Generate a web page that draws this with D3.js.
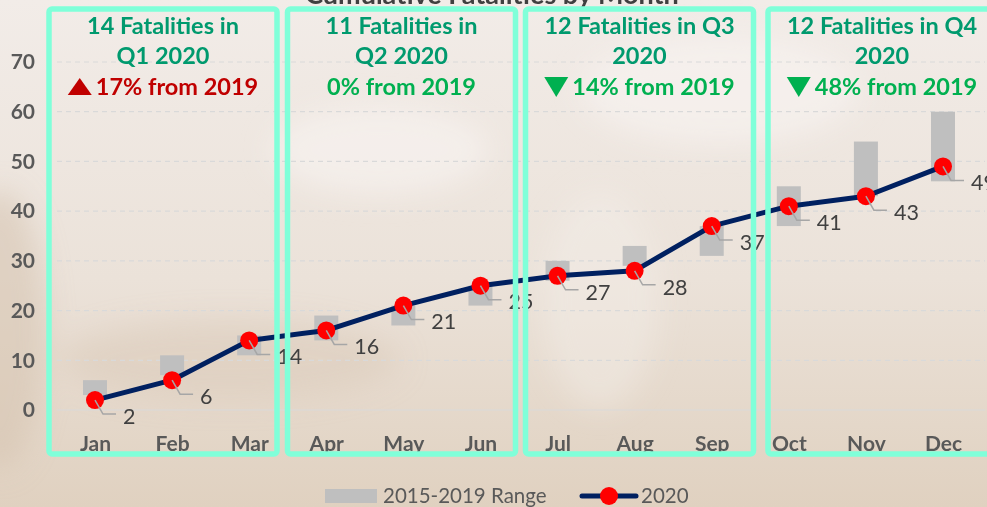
<!DOCTYPE html>
<html>
<head>
<meta charset="utf-8">
<script src="https://cdn.jsdelivr.net/npm/d3@7"></script>
<style>
  html, body { margin: 0; padding: 0; background: #ece3da; }
  svg { display: block; font-family: Lato, "Open Sans", sans-serif; }
</style>
</head>
<body>
<svg id="chart" width="987" height="507"></svg>
<script>
// Chart values
var months = ["Jan", "Feb", "Mar", "Apr", "May", "Jun", "Jul", "Aug", "Sep", "Oct", "Nov", "Dec"];
var fatalities2020 = [2, 6, 14, 16, 21, 25, 27, 28, 37, 41, 43, 49];
var rangeLow = [3, 7, 11, 14, 17, 21, 26, 29, 31, 37, 43, 46];
var rangeHigh = [6, 11, 15, 19, 21, 25, 30, 33, 37, 45, 54, 60];
var yTicks = [0, 10, 20, 30, 40, 50, 60, 70];

// Quarter call-outs
var quarterLine1 = ["14 Fatalities in", "11 Fatalities in", "12 Fatalities in Q3", "12 Fatalities in Q4"];
var quarterLine2 = ["Q1 2020", "Q2 2020", "2020", "2020"];
var quarterChange = ["17% from 2019", "0% from 2019", "14% from 2019", "48% from 2019"];
var quarterTrend = ["up", "flat", "down", "down"];

var legendLabels = ["2015-2019 Range", "2020"];
var chartTitle = "Cumulative Fatalities by Month";

var width = 987, height = 507;
var svg = d3.select("#chart");

// Background with soft swirls
var defs = svg.append("defs");
var grad = defs.append("linearGradient")
    .attr("id", "bg").attr("x1", 0).attr("y1", 0).attr("x2", 0).attr("y2", 1);
grad.append("stop").attr("offset", "0%").attr("stop-color", "#f2ece8");
grad.append("stop").attr("offset", "55%").attr("stop-color", "#ebe2d9");
grad.append("stop").attr("offset", "100%").attr("stop-color", "#e0d1c0");
defs.append("filter").attr("id", "blur")
    .append("feGaussianBlur").attr("stdDeviation", 14);

svg.append("rect").attr("width", width).attr("height", height).attr("fill", "url(#bg)");

var swirls = svg.append("g").attr("filter", "url(#blur)");
swirls.append("ellipse").attr("cx", 0).attr("cy", 330).attr("rx", 45).attr("ry", 140)
    .attr("fill", "#d6c2ae").attr("opacity", 0.55);
swirls.append("ellipse").attr("cx", 230).attr("cy", 360).attr("rx", 170).attr("ry", 40)
    .attr("fill", "#dac8b5").attr("opacity", 0.45);
swirls.append("ellipse").attr("cx", 380).attr("cy", 150).attr("rx", 110).attr("ry", 45)
    .attr("fill", "#f8f4f1").attr("opacity", 0.6);
swirls.append("ellipse").attr("cx", 720).attr("cy", 90).attr("rx", 140).attr("ry", 55)
    .attr("fill", "#f8f4f1").attr("opacity", 0.6);
swirls.append("ellipse").attr("cx", 600).attr("cy", 300).attr("rx", 60).attr("ry", 110)
    .attr("fill", "#f6f0eb").attr("opacity", 0.4);

// Scales
var x = d3.scalePoint().domain(months).range([95, 943]);
var y = d3.scaleLinear().domain([0, 70]).range([410, 62]);

// Gridlines
svg.append("g").selectAll("line")
    .data(yTicks)
    .join("line")
    .attr("x1", 57).attr("x2", 985)
    .attr("y1", function(d) { return y(d); })
    .attr("y2", function(d) { return y(d); })
    .attr("stroke", "#d9d9d9")
    .attr("stroke-width", 1.2)
    .attr("stroke-dasharray", function(d) { return d === 0 ? null : "5,4"; });

// Y axis labels
var yAxis = svg.append("g")
    .attr("transform", "translate(35,0)")
    .call(d3.axisLeft(y).tickValues(yTicks).tickSize(0).tickPadding(0));
yAxis.select(".domain").remove();
yAxis.selectAll("text")
    .attr("font-family", "Lato, sans-serif")
    .attr("font-size", 21)
    .attr("font-weight", "bold")
    .attr("fill", "#595959");

// X axis labels (bottoms tucked under the quarter boxes)
var xAxis = svg.append("g")
    .attr("transform", "translate(0,436)")
    .call(d3.axisBottom(x).tickSize(0).tickPadding(0));
xAxis.select(".domain").remove();
xAxis.selectAll("text")
    .attr("font-family", "Lato, sans-serif")
    .attr("font-size", 21)
    .attr("font-weight", "bold")
    .attr("fill", "#595959")
    .attr("dy", "0.71em");

// 2015-2019 range bars
var barWidth = 24;
svg.append("g").selectAll("rect")
    .data(months)
    .join("rect")
    .attr("x", function(d) { return x(d) - barWidth / 2; })
    .attr("y", function(d, i) { return y(rangeHigh[i]); })
    .attr("width", barWidth)
    .attr("height", function(d, i) { return y(rangeLow[i]) - y(rangeHigh[i]); })
    .attr("fill", "#bfbfbf");

// 2020 line
var line = d3.line()
    .x(function(d, i) { return x(months[i]); })
    .y(function(d) { return y(d); });
svg.append("path")
    .datum(fatalities2020)
    .attr("d", line)
    .attr("fill", "none")
    .attr("stroke", "#002060")
    .attr("stroke-width", 5)
    .attr("stroke-linejoin", "round");

svg.append("g").selectAll("circle")
    .data(fatalities2020)
    .join("circle")
    .attr("cx", function(d, i) { return x(months[i]); })
    .attr("cy", function(d) { return y(d); })
    .attr("r", 9)
    .attr("fill", "#ff0000");

// Data labels with leader lines
svg.append("g").selectAll("path")
    .data(fatalities2020)
    .join("path")
    .attr("d", function(d, i) {
        var px = x(months[i]), py = y(d);
        return "M" + px + "," + py + "L" + (px + 8) + "," + (py + 14) + "L" + (px + 21) + "," + (py + 14);
    })
    .attr("fill", "none")
    .attr("stroke", "#a6a6a6")
    .attr("stroke-width", 1.5);

svg.append("g").selectAll("text")
    .data(fatalities2020)
    .join("text")
    .attr("x", function(d, i) { return x(months[i]) + 28; })
    .attr("y", function(d) { return y(d) + 16; })
    .attr("dy", "0.36em")
    .attr("font-size", 21.5)
    .attr("fill", "#404040")
    .text(function(d) { return d; });

// Title (runs off the top edge)
svg.append("text")
    .attr("x", 492).attr("y", 4)
    .attr("text-anchor", "middle")
    .attr("font-size", 27)
    .attr("font-weight", "bold")
    .attr("fill", "#404040")
    .text(chartTitle);

// Quarter boxes and call-outs
var boxWidth = 228, boxTop = 9, boxBottom = 454;
var boxLeft = [49, 287.5, 525.5, 768];
var headSize = 23.5;
var boxes = svg.append("g");
quarterLine1.forEach(function(t, i) {
    var left = boxLeft[i];
    var cx = left + boxWidth / 2;
    boxes.append("rect")
        .attr("x", left).attr("y", boxTop)
        .attr("width", boxWidth).attr("height", boxBottom - boxTop)
        .attr("rx", 3)
        .attr("fill", "none")
        .attr("stroke", "#80ffd9")
        .attr("stroke-width", 5.5);

    boxes.append("text")
        .attr("x", cx).attr("y", 34)
        .attr("text-anchor", "middle")
        .attr("font-size", headSize).attr("font-weight", "bold")
        .attr("fill", "#009a6e")
        .text(t);
    boxes.append("text")
        .attr("x", cx).attr("y", 64)
        .attr("text-anchor", "middle")
        .attr("font-size", headSize).attr("font-weight", "bold")
        .attr("fill", "#009a6e")
        .text(quarterLine2[i]);

    var trend = quarterTrend[i];
    var color = trend === "up" ? "#c00000" : "#00b050";
    var g = boxes.append("g");
    var label = g.append("text")
        .attr("y", 95)
        .attr("font-size", headSize).attr("font-weight", "bold")
        .attr("fill", color)
        .text(quarterChange[i]);
    var tw = label.node().getComputedTextLength();
    var triW = trend === "flat" ? 0 : 24, gap = trend === "flat" ? 0 : 4;
    var startX = cx - (triW + gap + tw) / 2;
    label.attr("x", startX + triW + gap);
    if (trend === "up") {
        g.append("path")
            .attr("d", "M" + startX + ",95L" + (startX + triW) + ",95L" + (startX + triW / 2) + ",78Z")
            .attr("fill", color);
    } else if (trend === "down") {
        g.append("path")
            .attr("d", "M" + startX + ",77L" + (startX + triW) + ",77L" + (startX + triW / 2) + ",97Z")
            .attr("fill", color);
    }
});

// Legend
var legend = svg.append("g");
legend.append("rect")
    .attr("x", 325).attr("y", 489).attr("width", 52).attr("height", 14)
    .attr("fill", "#bfbfbf");
legend.append("text")
    .attr("x", 383).attr("y", 503)
    .attr("font-size", 20.5).attr("fill", "#595959")
    .text(legendLabels[0]);
legend.append("line")
    .attr("x1", 582).attr("x2", 636).attr("y1", 496).attr("y2", 496)
    .attr("stroke", "#002060").attr("stroke-width", 5).attr("stroke-linecap", "round");
legend.append("circle")
    .attr("cx", 609).attr("cy", 496).attr("r", 9).attr("fill", "#ff0000");
legend.append("text")
    .attr("x", 641).attr("y", 503)
    .attr("font-size", 20.5).attr("fill", "#595959")
    .text(legendLabels[1]);
</script>
</body>
</html>
